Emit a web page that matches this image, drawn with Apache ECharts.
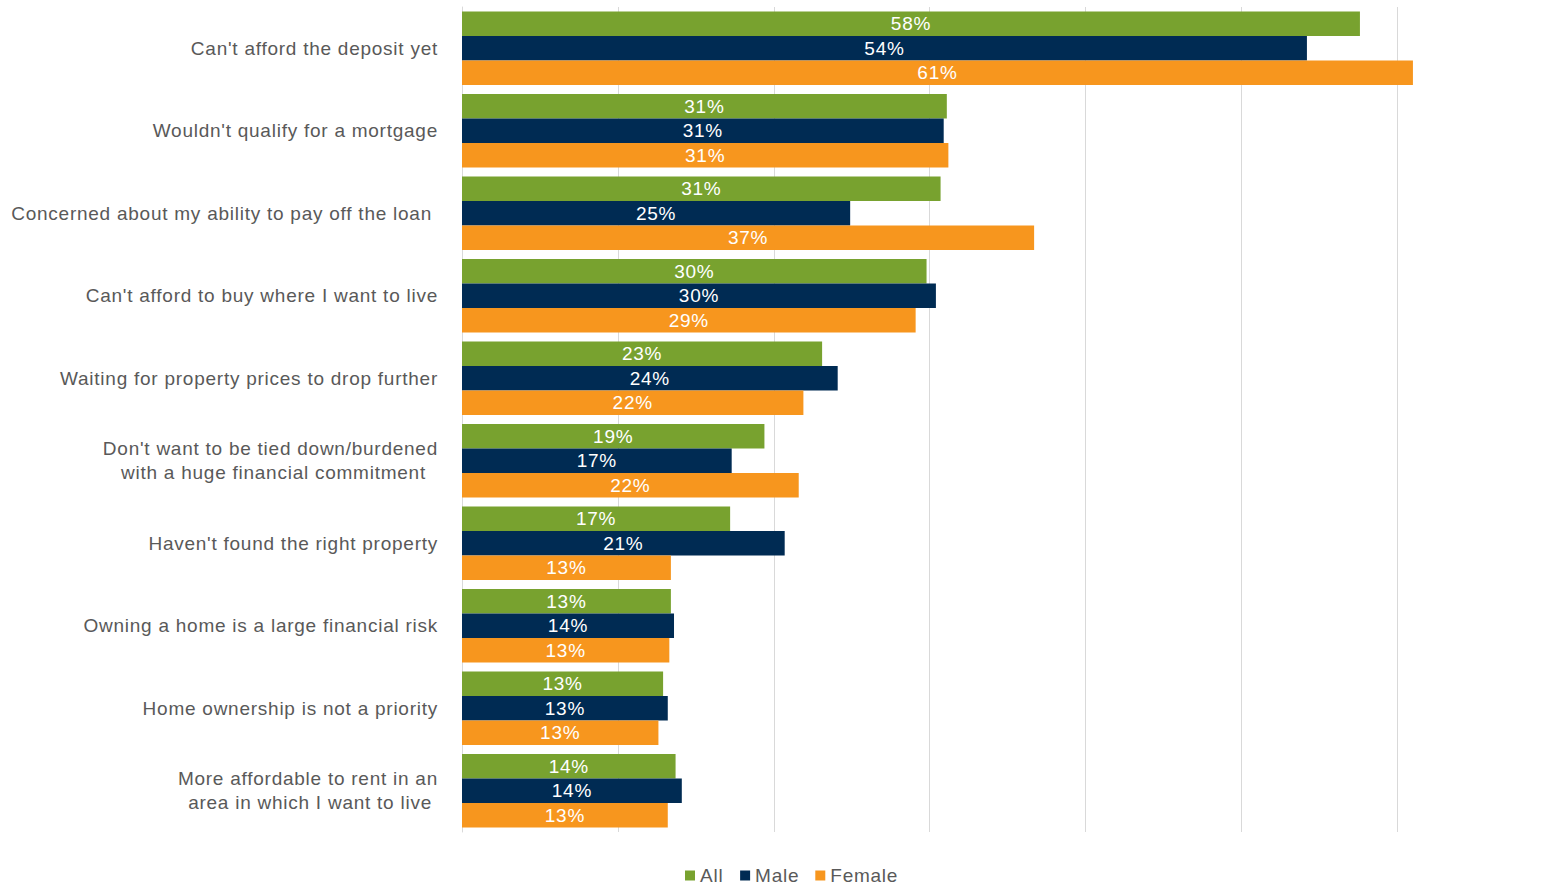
<!DOCTYPE html>
<html>
<head>
<meta charset="utf-8">
<script src="https://cdn.jsdelivr.net/npm/echarts@6/dist/echarts.min.js"></script>
<style>
html,body{margin:0;padding:0;background:#fff;}
#chart{width:1547px;height:884px;letter-spacing:0.75px;}
</style>
</head>
<body>
<div id="chart"></div>
<script>
const categories = [
  "Can't afford the deposit yet",
  "Wouldn't qualify for a mortgage",
  "Concerned about my ability to pay off the loan\u00a0",
  "Can't afford to buy where I want to live",
  "Waiting for property prices to drop further",
  "Don't want to be tied down/burdened\nwith a huge financial commitment\u00a0\u00a0",
  "Haven't found the right property",
  "Owning a home is a large financial risk",
  "Home ownership is not a priority",
  "More affordable to rent in an\narea in which I want to live\u00a0"
];
const seriesNames = ["All", "Male", "Female"];
const allValues =    [57.6, 31.1, 30.7, 29.8, 23.1, 19.4, 17.2, 13.4, 12.9, 13.7];
const maleValues =   [54.2, 30.9, 24.9, 30.4, 24.1, 17.3, 20.7, 13.6, 13.2, 14.1];
const femaleValues = [61.0, 31.2, 36.7, 29.1, 21.9, 21.6, 13.4, 13.3, 12.6, 13.2];
const colors = ["#78A22F", "#002B53", "#F7961E"];

const chart = echarts.init(document.getElementById('chart'), null, { renderer: 'svg' });
const font = "'Liberation Sans', Arial, sans-serif";
function mk(name, data, color) {
  return {
    name: name,
    type: 'bar',
    data: data,
    barGap: '0%',
    barCategoryGap: '11%',
    itemStyle: { color: color },
    label: {
      show: true,
      position: 'inside',
      color: '#fff',
      fontSize: 19,
      fontFamily: font,
      formatter: p => Math.round(p.value) + '%'
    }
  };
}
chart.setOption({
  animation: false,
  grid: { left: 462, right: 0, top: 7, bottom: 52, containLabel: false },
  legend: {
    data: seriesNames,
    left: 685,
    top: 866,
    padding: 0,
    icon: 'rect',
    itemWidth: 10,
    itemHeight: 10,
    itemGap: 19,
    textStyle: { color: '#595959', fontSize: 19, fontFamily: font, lineHeight: 16 }
  },
  xAxis: {
    type: 'value',
    min: 0,
    max: 69.6,
    interval: 10,
    axisLabel: { show: false },
    axisLine: { show: false },
    axisTick: { show: false },
    splitLine: { show: true, showMaxLine: false, lineStyle: { color: '#D9D9D9', width: 1 } }
  },
  yAxis: {
    type: 'category',
    inverse: true,
    data: categories,
    axisLine: { show: true, lineStyle: { color: '#D9D9D9' } },
    axisTick: { show: false },
    axisLabel: { color: '#595959', fontSize: 19, fontFamily: font, margin: 24, lineHeight: 24 }
  },
  series: [
    mk(seriesNames[0], allValues, colors[0]),
    mk(seriesNames[1], maleValues, colors[1]),
    mk(seriesNames[2], femaleValues, colors[2])
  ]
});
</script>
</body>
</html>
